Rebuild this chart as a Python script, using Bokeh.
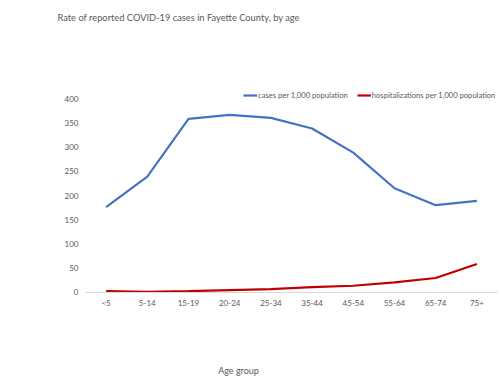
from bokeh.plotting import figure
from bokeh.models import Range1d, Legend, LegendItem, Label, LinearAxis, FixedTicker
from bokeh.embed import file_html
from bokeh.resources import INLINE

age_groups = ["<5", "5-14", "15-19", "20-24", "25-34", "35-44", "45-54", "55-64", "65-74", "75+"]
cases_per_1000 = [176, 239, 359, 367, 361, 339, 289, 215, 180, 189]
hosp_per_1000 = [2, 0.5, 2, 4, 6, 10, 13, 20, 29, 58]
y_ticks = [0, 50, 100, 150, 200, 250, 300, 350, 400]

FONT = "Lato"
GRAY = "#595959"
W, H = 500, 387

positions = list(range(len(age_groups)))

# The frame fills the whole canvas; the axes are fixed inside it.
p = figure(width=W, height=H, output_backend="svg", toolbar_location=None,
           x_range=Range1d(-2.563, 9.573), y_range=Range1d(-197.9, 604.2),
           x_axis_location=None, y_axis_location=None,
           min_border=0, min_border_left=0, min_border_right=0, min_border_top=0, min_border_bottom=0)
p.outline_line_color = None
p.xgrid.grid_line_color = None
p.ygrid.grid_line_color = None

r1 = p.line(positions, cases_per_1000, line_color="#4472C4", line_width=2.2)
r2 = p.line(positions, hosp_per_1000, line_color="#C00000", line_width=2.2)

xaxis = LinearAxis(fixed_location=0, bounds=(-0.5, len(age_groups) - 0.5),
                   ticker=FixedTicker(ticks=positions),
                   major_label_overrides={i: g for i, g in zip(positions, age_groups)})
xaxis.axis_line_color = "#D9D9D9"
xaxis.axis_line_width = 1
xaxis.major_tick_line_color = None
xaxis.minor_tick_line_color = None
xaxis.major_label_text_font = FONT
xaxis.major_label_text_font_size = "8px"
xaxis.major_label_text_color = GRAY
xaxis.major_label_standoff = 0
p.add_layout(xaxis, "below")

yaxis = LinearAxis(fixed_location=-0.5, ticker=FixedTicker(ticks=y_ticks))
yaxis.axis_line_color = None
yaxis.major_tick_line_color = None
yaxis.minor_tick_line_color = None
yaxis.major_label_text_font = FONT
yaxis.major_label_text_font_size = "8px"
yaxis.major_label_text_color = GRAY
yaxis.major_label_standoff = 1
p.add_layout(yaxis, "left")

title = Label(x=57, y=H - 17, x_units="screen", y_units="screen",
              text="Rate of reported COVID-19 cases in Fayette County, by age",
              text_font=FONT, text_font_size="9.3px", text_color=GRAY,
              text_baseline="middle", text_align="left")
p.add_layout(title)

xlabel = Label(x=238, y=H - 370, x_units="screen", y_units="screen", text="Age group",
               text_font=FONT, text_font_size="9px", text_color=GRAY,
               text_baseline="middle", text_align="center")
p.add_layout(xlabel)

legend = Legend(items=[LegendItem(label="cases per 1,000 population", renderers=[r1]),
                       LegendItem(label="hospitalizations per 1,000 population", renderers=[r2])],
                orientation="horizontal", location=(243, H - 100),
                label_text_font=FONT, label_text_font_size="7.6px", label_text_color=GRAY,
                glyph_width=14, glyph_height=8, label_standoff=1, spacing=9,
                padding=0, margin=0, border_line_color=None, background_fill_alpha=0,
                label_height=8)
p.add_layout(legend)

open("out.html", "w").write(file_html(p, INLINE))
